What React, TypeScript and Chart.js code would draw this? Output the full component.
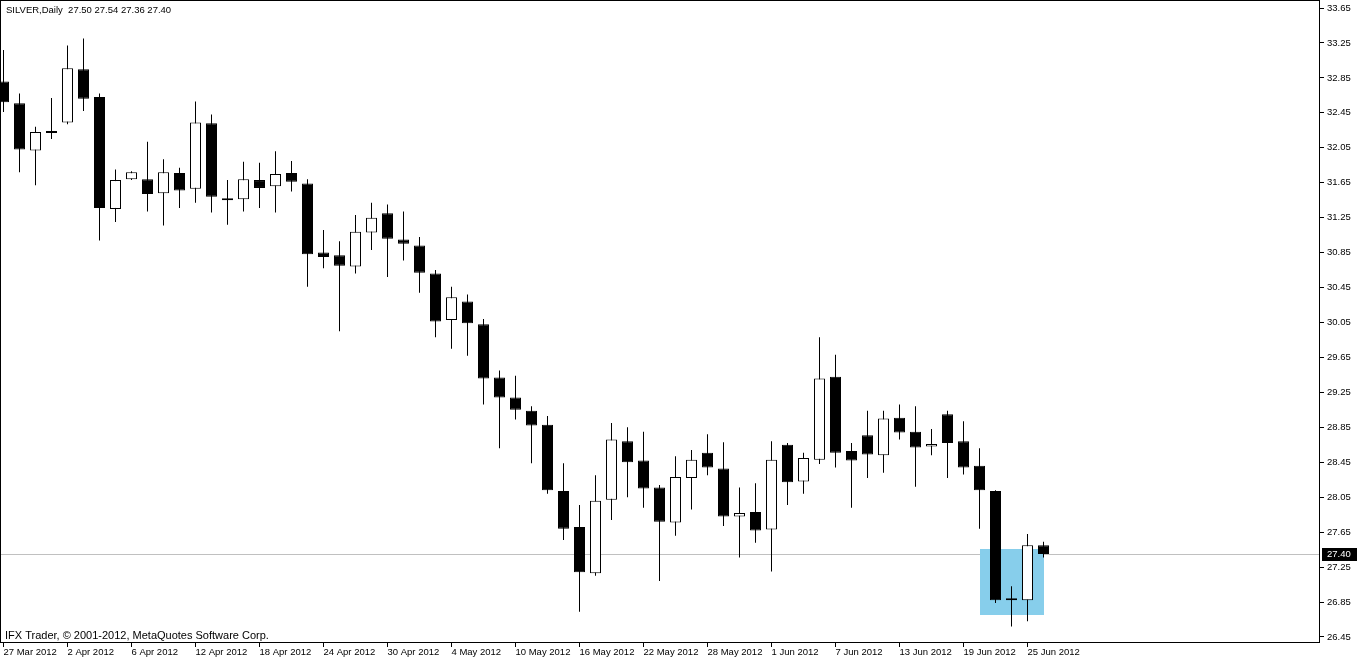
import React, { useEffect, useRef } from "react";
import { Chart, registerables } from "chart.js";

Chart.register(...registerables);

// ---------- data ----------
const SYMBOL = "SILVER,Daily";
const COPYRIGHT = "IFX Trader, \u00A9 2001-2012, MetaQuotes Software Corp.";

const DATES = [
  "27 Mar 2012", "28 Mar 2012", "29 Mar 2012", "30 Mar 2012",
  "2 Apr 2012", "3 Apr 2012", "4 Apr 2012", "5 Apr 2012", "6 Apr 2012",
  "9 Apr 2012", "10 Apr 2012", "11 Apr 2012", "12 Apr 2012", "13 Apr 2012",
  "16 Apr 2012", "17 Apr 2012", "18 Apr 2012", "19 Apr 2012", "20 Apr 2012",
  "23 Apr 2012", "24 Apr 2012", "25 Apr 2012", "26 Apr 2012", "27 Apr 2012",
  "30 Apr 2012", "1 May 2012", "2 May 2012", "3 May 2012", "4 May 2012",
  "7 May 2012", "8 May 2012", "9 May 2012", "10 May 2012", "11 May 2012",
  "14 May 2012", "15 May 2012", "16 May 2012", "17 May 2012", "18 May 2012",
  "21 May 2012", "22 May 2012", "23 May 2012", "24 May 2012", "25 May 2012",
  "28 May 2012", "29 May 2012", "30 May 2012", "31 May 2012", "1 Jun 2012",
  "4 Jun 2012", "5 Jun 2012", "6 Jun 2012", "7 Jun 2012", "8 Jun 2012",
  "11 Jun 2012", "12 Jun 2012", "13 Jun 2012", "14 Jun 2012", "15 Jun 2012",
  "18 Jun 2012", "19 Jun 2012", "20 Jun 2012", "21 Jun 2012", "22 Jun 2012",
  "25 Jun 2012", "26 Jun 2012",
];

const OPEN = [
  32.81, 32.56, 32.02, 32.22, 32.34, 32.95, 32.63, 31.35, 31.69, 31.69,
  31.53, 31.76, 31.58, 32.33, 31.47, 31.46, 31.68, 31.61, 31.76, 31.64,
  30.85, 30.82, 30.69, 31.08, 31.30, 31.00, 30.93, 30.61, 30.08, 30.29,
  30.03, 29.42, 29.19, 29.04, 28.88, 28.12, 27.71, 27.18, 28.02, 28.69,
  28.47, 28.16, 27.76, 28.27, 28.56, 28.38, 27.83, 27.88, 27.68, 28.65,
  28.23, 28.48, 29.43, 28.58, 28.76, 28.53, 28.96, 28.80, 28.63, 29.00,
  28.69, 28.41, 28.12, 26.87, 26.87, 27.50,
];
const HIGH = [
  33.17, 32.67, 32.29, 32.62, 33.22, 33.30, 32.67, 31.80, 31.78, 32.12,
  31.92, 31.82, 32.58, 32.43, 31.68, 31.89, 31.88, 32.01, 31.90, 31.69,
  31.11, 30.98, 31.28, 31.42, 31.40, 31.32, 31.03, 30.65, 30.46, 30.37,
  30.09, 29.50, 29.44, 29.09, 28.98, 28.44, 27.96, 28.30, 28.90, 28.85,
  28.80, 28.19, 28.52, 28.59, 28.77, 28.68, 28.16, 28.21, 28.69, 28.67,
  28.56, 29.88, 29.68, 28.67, 29.04, 29.04, 29.11, 29.09, 28.83, 29.04,
  28.92, 28.61, 28.13, 27.03, 27.63, 27.54,
];
const LOW = [
  32.46, 31.77, 31.62, 32.15, 32.32, 32.47, 30.99, 31.20, 31.68, 31.32,
  31.16, 31.36, 31.42, 31.31, 31.17, 31.32, 31.36, 31.31, 31.55, 30.46,
  30.67, 29.95, 30.61, 30.88, 30.57, 30.76, 30.39, 29.88, 29.75, 29.67,
  29.11, 28.61, 28.94, 28.44, 28.09, 27.56, 26.74, 27.15, 27.79, 28.05,
  27.93, 27.09, 27.61, 27.91, 28.30, 27.72, 27.36, 27.53, 27.20, 27.96,
  28.09, 28.43, 28.39, 27.93, 28.27, 28.33, 28.71, 28.17, 28.53, 28.27,
  28.31, 27.69, 26.84, 26.57, 26.63, 27.36,
];
const CLOSE = [
  32.57, 32.03, 32.23, 32.24, 32.96, 32.61, 31.36, 31.68, 31.77, 31.52,
  31.77, 31.56, 32.34, 31.49, 31.45, 31.69, 31.59, 31.75, 31.66, 30.83,
  30.80, 30.70, 31.09, 31.25, 31.01, 30.95, 30.62, 30.06, 30.34, 30.04,
  29.41, 29.19, 29.05, 28.87, 28.13, 27.69, 27.19, 28.01, 28.71, 28.45,
  28.15, 27.77, 28.28, 28.48, 28.39, 27.83, 27.87, 27.67, 28.48, 28.22,
  28.50, 29.41, 28.56, 28.47, 28.54, 28.95, 28.79, 28.62, 28.66, 28.67,
  28.39, 28.13, 26.87, 26.87, 27.50, 27.40,
];

const X_TICK_LABELS = [
  "27 Mar 2012", "2 Apr 2012", "6 Apr 2012", "12 Apr 2012", "18 Apr 2012",
  "24 Apr 2012", "30 Apr 2012", "4 May 2012", "10 May 2012", "16 May 2012",
  "22 May 2012", "28 May 2012", "1 Jun 2012", "7 Jun 2012", "13 Jun 2012",
  "19 Jun 2012", "25 Jun 2012",
];
const Y_TICKS = [
  26.45, 26.85, 27.25, 27.65, 28.05, 28.45, 28.85, 29.25, 29.65, 30.05,
  30.45, 30.85, 31.25, 31.65, 32.05, 32.45, 32.85, 33.25, 33.65,
];

// highlighted rectangle object (time/price anchors)
const RECT_FROM = "20 Jun 2012";
const RECT_TO = "26 Jun 2012";
const RECT_PRICE_TOP = 27.46;
const RECT_PRICE_BOTTOM = 26.7;

// ---------- styling ----------
const FONT_FAMILY = "'Liberation Sans', Arial, sans-serif";
const FONT_SIZE = 9.5;
const FONT = `${FONT_SIZE}px ${FONT_FAMILY}`;
const COPY_FONT = `11px ${FONT_FAMILY}`;

const mt4Plugin = {
  id: "mt4Decor",
  beforeDatasetsDraw(chart: any) {
    const { ctx, chartArea: a, scales } = chart;
    const x = scales.x;
    const y = scales.y;
    const n = CLOSE.length;
    ctx.save();
    // bid line
    const yb = Math.round(y.getPixelForValue(CLOSE[n - 1])) + 0.5;
    ctx.strokeStyle = "#c0c0c0";
    ctx.lineWidth = 1;
    ctx.beginPath();
    ctx.moveTo(a.left, yb);
    ctx.lineTo(a.right, yb);
    ctx.stroke();
    // rectangle object
    const x1 = x.getPixelForValue(DATES.indexOf(RECT_FROM));
    const x2 = x.getPixelForValue(DATES.indexOf(RECT_TO));
    const y1 = y.getPixelForValue(RECT_PRICE_TOP);
    const y2 = y.getPixelForValue(RECT_PRICE_BOTTOM);
    ctx.fillStyle = "#87CEEB";
    ctx.fillRect(Math.round(x1), Math.round(y1), Math.round(x2 - x1), Math.round(y2 - y1));
    ctx.restore();
  },
  afterDraw(chart: any) {
    const { ctx, chartArea: a, scales } = chart;
    const y = scales.y;
    const n = CLOSE.length;
    ctx.save();
    // frame
    ctx.strokeStyle = "#000";
    ctx.lineWidth = 1;
    ctx.strokeRect(a.left + 0.5, a.top + 0.5, a.right - a.left - 1, a.bottom - a.top - 1);
    // header
    ctx.fillStyle = "#000";
    ctx.font = FONT;
    ctx.textBaseline = "middle";
    ctx.textAlign = "left";
    const header = `${SYMBOL}  ${OPEN[n - 1].toFixed(2)} ${HIGH[n - 1].toFixed(2)} ${LOW[n - 1].toFixed(2)} ${CLOSE[n - 1].toFixed(2)}`;
    ctx.fillText(header, a.left + 6, a.top + 10.5);
    // current price label
    const yp = Math.round(y.getPixelForValue(CLOSE[n - 1]));
    ctx.fillStyle = "#000";
    ctx.fillRect(a.right + 2, yp - 6, 35, 13);
    ctx.fillStyle = "#fff";
    ctx.fillText(CLOSE[n - 1].toFixed(2), a.right + 7, yp + 0.5);
    // copyright
    ctx.fillStyle = "#000";
    ctx.font = COPY_FONT;
    ctx.textBaseline = "alphabetic";
    ctx.fillText(COPYRIGHT, a.left + 5, a.bottom - 4);
    ctx.restore();
  },
};

export default function App() {
  const canvasRef = useRef<HTMLCanvasElement | null>(null);

  useEffect(() => {
    const canvas = canvasRef.current;
    if (!canvas) return;

    const wicks = DATES.map((_, i) => ({ x: i, y: [LOW[i], HIGH[i]] }));
    const bodies = DATES.map((_, i) => ({
      x: i,
      y: [Math.min(OPEN[i], CLOSE[i]), Math.max(OPEN[i], CLOSE[i])],
    }));
    const bodyColors = DATES.map((_, i) => (CLOSE[i] >= OPEN[i] ? "#ffffff" : "#000000"));
    const tickIdx = X_TICK_LABELS.map((d) => DATES.indexOf(d));

    const chart = new Chart(canvas, {
      type: "bar",
      data: {
        datasets: [
          {
            label: "wick",
            data: wicks as any,
            backgroundColor: "#000",
            borderWidth: 0,
            barThickness: 1,
            grouped: false,
            inflateAmount: 0,
            order: 2,
          } as any,
          {
            label: "body",
            data: bodies as any,
            backgroundColor: bodyColors,
            borderColor: "#000",
            borderWidth: 1,
            borderSkipped: false,
            barThickness: 11,
            minBarLength: 2,
            grouped: false,
            inflateAmount: 0,
            order: 1,
          } as any,
        ],
      },
      options: {
        animation: false,
        responsive: false,
        devicePixelRatio: 1,
        events: [],
        layout: { padding: 0 },
        plugins: {
          legend: { display: false },
          tooltip: { enabled: false },
          title: { display: false },
        },
        scales: {
          x: {
            type: "linear",
            position: "bottom",
            min: -0.21875,
            max: 82.28125,
            offset: false,
            grid: {
              offset: false,
              drawOnChartArea: false,
              drawTicks: true,
              tickLength: 4,
              color: "#000",
            },
            border: { display: false },
            ticks: {
              align: "start",
              maxRotation: 0,
              minRotation: 0,
              autoSkip: false,
              padding: 0,
              color: "#000",
              font: { family: FONT_FAMILY, size: FONT_SIZE },
              callback: (v: any) => DATES[Math.round(Number(v))] ?? "",
            },
            afterBuildTicks: (scale: any) => {
              scale.ticks = tickIdx.map((v) => ({ value: v }));
            },
            afterFit: (scale: any) => {
              scale.height = 17;
              scale.paddingLeft = 0;
              scale.paddingRight = 0;
            },
          } as any,
          y: {
            type: "linear",
            position: "right",
            min: 26.3812,
            max: 33.7416,
            grid: {
              drawOnChartArea: false,
              drawTicks: true,
              tickLength: 4,
              color: "#000",
            },
            border: { display: false },
            ticks: {
              padding: 3,
              color: "#000",
              font: { family: FONT_FAMILY, size: FONT_SIZE },
              callback: (v: any) => Number(v).toFixed(2),
            },
            afterBuildTicks: (scale: any) => {
              scale.ticks = Y_TICKS.map((v) => ({ value: v }));
            },
            afterFit: (scale: any) => {
              scale.width = 40;
              scale.paddingTop = 0;
              scale.paddingBottom = 0;
            },
          } as any,
        },
      },
      plugins: [mt4Plugin],
    });

    return () => chart.destroy();
  }, []);

  return (
    <div
      style={{
        position: "absolute",
        left: 0,
        top: 0,
        width: 1360,
        height: 660,
        background: "#fff",
      }}
    >
      <canvas ref={canvasRef} width={1360} height={660} style={{ display: "block" }} />
    </div>
  );
}
